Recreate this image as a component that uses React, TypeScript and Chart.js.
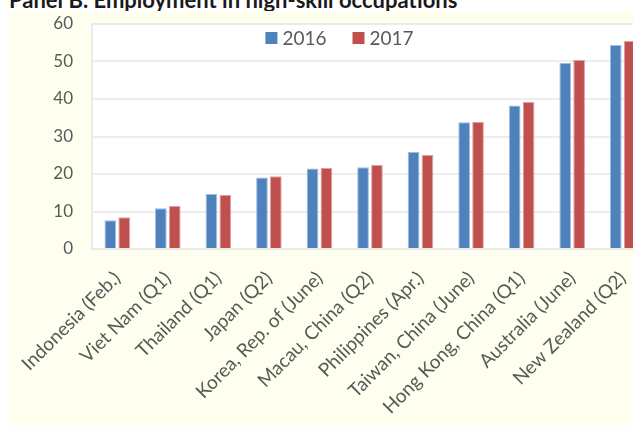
import React, { useEffect, useRef } from "react";
import { Chart, registerables } from "chart.js";

Chart.register(...registerables);

const categories = [
  "Indonesia (Feb.)",
  "Viet Nam (Q1)",
  "Thailand (Q1)",
  "Japan (Q2)",
  "Korea, Rep. of (June)",
  "Macau, China (Q2)",
  "Philippines (Apr.)",
  "Taiwan, China (June)",
  "Hong Kong, China (Q1)",
  "Australia (June)",
  "New Zealand (Q2)",
];
const values2016 = [7.7, 10.9, 14.7, 19.1, 21.5, 21.8, 25.9, 33.8, 38.3, 49.6, 54.4];
const values2017 = [8.5, 11.5, 14.4, 19.4, 21.6, 22.4, 25.1, 33.9, 39.2, 50.4, 55.5];
const seriesLabels = ["2016", "2017"];
const yMin = 0;
const yMax = 60;
const yStep = 10;

const TITLE = "Panel B. Employment in high-skill occupations";
const BLUE = "#4F81BD";
const RED = "#C0504D";
const TEXT = "#595959";
const FONT = "Lato";

const plotBg = {
  id: "plotBg",
  beforeDraw(chart: any) {
    const { ctx, chartArea: a } = chart;
    ctx.save();
    ctx.fillStyle = "#FFFFFF";
    ctx.fillRect(a.left, a.top, a.right - a.left, a.bottom - a.top);
    ctx.restore();
  },
  beforeDatasetsDraw(chart: any) {
    const { ctx, chartArea: a } = chart;
    ctx.save();
    ctx.strokeStyle = "#EAEAEA";
    ctx.lineWidth = 2;
    ctx.strokeRect(a.left, a.top, a.right - a.left, a.bottom - a.top);
    ctx.restore();
  },
  afterDraw(chart: any) {
    const { ctx } = chart;
    const ds = chart.data.datasets;
    ctx.save();
    ctx.font = `19px ${FONT}`;
    ctx.textBaseline = "middle";
    const box = 12;
    const gapBoxText = 5;
    const gapItems = 26;
    const widths = ds.map((d: any) => box + gapBoxText + ctx.measureText(d.label).width);
    const total = widths.reduce((s: number, w: number) => s + w, 0) + gapItems * (ds.length - 1);
    let x = chart.width / 2 - total / 2;
    const y = 27;
    ds.forEach((d: any, i: number) => {
      ctx.fillStyle = d.backgroundColor;
      ctx.fillRect(x, y - box / 2, box, box);
      ctx.fillStyle = TEXT;
      ctx.textAlign = "left";
      ctx.fillText(d.label, x + box + gapBoxText, y + 1);
      x += widths[i] + gapItems;
    });
    ctx.restore();
  },
};

export default function App() {
  const ref = useRef<HTMLCanvasElement>(null);
  useEffect(() => {
    if (!ref.current) return;
    const chart = new Chart(ref.current, {
      type: "bar",
      data: {
        labels: categories,
        datasets: [
          {
            label: seriesLabels[0],
            data: values2016,
            backgroundColor: BLUE,
            borderColor: "rgba(150,180,220,0.9)",
            borderWidth: 1,
            categoryPercentage: 0.55,
            barPercentage: 0.84,
          },
          {
            label: seriesLabels[1],
            data: values2017,
            backgroundColor: RED,
            borderColor: "rgba(220,150,150,0.9)",
            borderWidth: 1,
            categoryPercentage: 0.55,
            barPercentage: 0.84,
          },
        ],
      },
      options: {
        responsive: false,
        animation: false,
        devicePixelRatio: 1,
        layout: { padding: { top: 13, right: 22, left: 0, bottom: 0 } },
        plugins: {
          legend: { display: false },
          title: { display: false },
          tooltip: { enabled: false },
        },
        scales: {
          x: {
            grid: { display: false, drawTicks: false },
            border: { display: false },
            ticks: {
              color: TEXT,
              font: { family: FONT, size: 19 },
              minRotation: 45,
              maxRotation: 45,
              autoSkip: false,
              padding: 18,
            },
            afterFit(scale: any) {
              scale.height = 177;
              scale.paddingTop = 0;
              scale.paddingBottom = 0;
              scale.paddingLeft = 0;
              scale.paddingRight = 0;
            },
          },
          y: {
            min: yMin,
            max: yMax,
            grid: { color: "#EDEDED", lineWidth: 2, drawTicks: false },
            border: { display: false },
            ticks: {
              stepSize: yStep,
              color: TEXT,
              font: { family: FONT, size: 17 },
              padding: 19,
            },
            afterFit(scale: any) {
              scale.width = 83;
              scale.paddingTop = 0;
              scale.paddingBottom = 0;
            },
          },
        },
      },
      plugins: [plotBg],
    });
    return () => chart.destroy();
  }, []);

  return (
    <div
      style={{
        position: "fixed",
        left: 0,
        top: 0,
        width: 633,
        height: 426,
        overflow: "hidden",
        background: "#FFFFFF",
      }}
    >
      <div
        style={{
          position: "absolute",
          left: 9,
          top: -11,
          fontFamily: FONT,
          fontWeight: 700,
          fontSize: 22,
          lineHeight: "22px",
          color: "#1A1A1A",
          whiteSpace: "nowrap",
        }}
      >
        {TITLE}
      </div>
      <canvas
        ref={ref}
        width={661}
        height={415}
        style={{
          position: "absolute",
          left: 9,
          top: 11,
          width: 661,
          height: 415,
          background: "#FFFFEF",
        }}
      />
    </div>
  );
}
